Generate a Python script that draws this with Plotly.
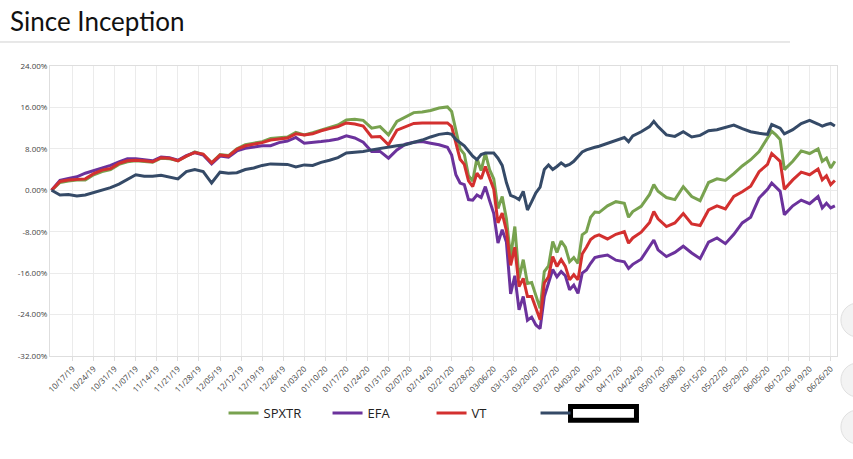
import plotly.graph_objects as go
import pandas as pd

# sampled trading days (denser through the Feb-Apr selloff)
dates = [
    "2019-10-10", "2019-10-14", "2019-10-16", "2019-10-18", "2019-10-22", "2019-10-24", "2019-10-28", "2019-10-30",
    "2019-11-01", "2019-11-05", "2019-11-07", "2019-11-11", "2019-11-13", "2019-11-15", "2019-11-19", "2019-11-21",
    "2019-11-25", "2019-11-27", "2019-11-29", "2019-12-03", "2019-12-05", "2019-12-09", "2019-12-11", "2019-12-13",
    "2019-12-17", "2019-12-19", "2019-12-23", "2019-12-25", "2019-12-27", "2019-12-31", "2020-01-03", "2020-01-07",
    "2020-01-09", "2020-01-13", "2020-01-15", "2020-01-17", "2020-01-21", "2020-01-23", "2020-01-27", "2020-01-29",
    "2020-01-31", "2020-02-04", "2020-02-06", "2020-02-10", "2020-02-12", "2020-02-14", "2020-02-18", "2020-02-20",
    "2020-02-21", "2020-02-24", "2020-02-25", "2020-02-26", "2020-02-27", "2020-02-28", "2020-03-02", "2020-03-03",
    "2020-03-04", "2020-03-05", "2020-03-06", "2020-03-09", "2020-03-10", "2020-03-11", "2020-03-12", "2020-03-13",
    "2020-03-16", "2020-03-17", "2020-03-18", "2020-03-19", "2020-03-20", "2020-03-23", "2020-03-24", "2020-03-25",
    "2020-03-26", "2020-03-27", "2020-03-30", "2020-03-31", "2020-04-01", "2020-04-02", "2020-04-03", "2020-04-06",
    "2020-04-07", "2020-04-08", "2020-04-09",
    "2020-04-10", "2020-04-14", "2020-04-16", "2020-04-20", "2020-04-21", "2020-04-22", "2020-04-24", "2020-04-28",
    "2020-04-29", "2020-04-30", "2020-05-04", "2020-05-06", "2020-05-08", "2020-05-12", "2020-05-14", "2020-05-18",
    "2020-05-20", "2020-05-22", "2020-05-26", "2020-05-28", "2020-06-01", "2020-06-03", "2020-06-05", "2020-06-08",
    "2020-06-09", "2020-06-10", "2020-06-11", "2020-06-15", "2020-06-17", "2020-06-19", "2020-06-23", "2020-06-24",
    "2020-06-25", "2020-06-26", "2020-06-29",
]

# cumulative return since inception, %
spxtr = [
    0, 1.5, 1.8, 2.0, 2.0, 3.0, 3.6, 4.0, 5.0, 5.5, 5.7, 5.6, 5.4, 6.2, 6.1, 5.7,
    6.6, 7.4, 6.9, 5.3, 6.9, 6.7, 8.0, 8.8, 9.1, 9.4, 10.0, 10.2, 10.3, 11.2, 10.7, 11.1,
    11.6, 12.0, 12.6, 13.6, 13.7, 13.5, 12.0, 12.3, 10.7, 13.3, 14.2, 15.0, 15.1, 15.4, 15.9, 16.1,
    15.2, 11.6, 8.0, 7.0, 2.8, 1.8, 6.2, 3.8, 7.2, 4.0, 2.2, -3.5, -1.2, -5.5, -13.0, -7.0,
    -17.0, -13.4, -18.0, -17.8, -20.5, -22.8, -15.7, -14.6, -9.9, -12.0, -9.8, -11.0, -13.8, -13.0, -14.1, -8.6,
    -8.0, -5.2, -4.2,
    -4.3, -3.0, -2.2, -2.5, -5.2, -4.1, -3.1, -0.8, 1.1, -0.2, -1.4, -1.8, 0.7, -1.2, -2.0, 1.5,
    2.2, 1.9, 3.2, 4.7, 5.9, 7.5, 10.2, 11.4, 10.7, 9.8, 4.0, 5.6, 7.6, 7.1, 8.0, 5.6,
    6.2, 4.3, 5.6,
]
efa = [
    0, 1.9, 2.3, 2.6, 3.3, 3.8, 4.2, 4.8, 5.5, 6.1, 6.1, 5.9, 5.7, 6.4, 6.3, 5.8,
    6.7, 7.3, 6.8, 5.1, 6.6, 6.4, 7.6, 8.1, 8.4, 8.6, 8.6, 9.2, 9.5, 10.2, 9.1, 9.2,
    9.4, 9.6, 9.9, 10.5, 10.1, 9.3, 7.5, 7.5, 6.2, 7.8, 8.9, 9.3, 9.4, 9.1, 8.8, 8.3,
    6.8, 3.0, 1.4, 1.1, -1.8, -1.9, -0.9, -1.4, 0.7, -2.0, -4.5, -10.2, -7.6, -10.0, -20.0, -16.5,
    -23.1, -20.5, -25.1, -24.5, -26.0, -26.7, -20.5, -17.9, -15.3, -16.7, -15.7, -16.5, -19.2, -18.3, -19.9, -16.0,
    -15.4, -14.1, -13.0,
    -12.8, -12.5, -13.5, -13.8, -15.1, -14.3, -13.3, -11.0, -9.6, -11.5, -12.8, -12.0, -10.8, -12.1, -13.2, -10.0,
    -9.2, -10.3, -8.5, -6.3, -5.2, -1.5, 0.2, 1.4, 0.5, -0.2, -4.7, -3.0, -1.9, -2.6, -1.2, -3.4,
    -2.5, -3.4, -3.0,
]
vt = [
    0, 1.7, 2.0, 2.1, 2.2, 3.2, 3.9, 4.2, 5.2, 5.7, 5.8, 5.7, 5.5, 6.3, 6.2, 5.7,
    6.6, 7.3, 7.0, 5.3, 6.8, 6.6, 7.9, 8.6, 8.9, 9.2, 9.7, 9.9, 10.1, 10.9, 10.7, 10.9,
    11.5, 11.9, 12.3, 13.0, 12.8, 12.4, 10.3, 10.4, 8.8, 11.6, 12.2, 12.9, 13.0, 13.0, 13.0, 13.0,
    12.3, 9.2, 6.0, 5.0, 1.8, 0.7, 3.3, 2.2, 4.6, 2.4, 0.2, -6.3, -4.4, -7.8, -14.5, -11.0,
    -18.6, -17.0, -20.5, -20.5, -22.8, -25.0, -17.9, -16.7, -12.8, -14.7, -13.4, -14.7, -17.3, -16.3, -17.3, -12.3,
    -11.0, -9.5, -8.9,
    -8.6, -9.4, -8.5, -8.0, -10.2, -9.2, -8.1, -6.2, -4.1, -5.5, -7.0, -6.3, -4.5, -6.5, -6.8, -3.8,
    -3.0, -3.6, -1.2, -0.3, 0.8, 3.6, 5.0, 7.1, 6.3, 5.6, 0.2, 2.0, 3.5, 3.0, 4.1, 2.0,
    2.8, 1.1, 1.9,
]
fund = [
    0, -0.9, -0.8, -1.1, -0.9, -0.4, 0.1, 0.5, 1.2, 2.1, 3.0, 2.7, 2.7, 2.9, 2.5, 2.2,
    3.6, 4.0, 3.6, 1.4, 3.5, 3.3, 3.4, 4.0, 4.3, 4.8, 5.1, 5.1, 5.0, 4.5, 4.9, 4.8,
    5.4, 5.8, 6.3, 7.2, 7.3, 7.5, 7.8, 8.1, 8.4, 8.6, 8.8, 9.2, 9.7, 10.3, 10.8, 11.0,
    10.8, 9.8, 9.2, 8.6, 7.6, 6.6, 5.9, 6.9, 7.2, 7.2, 7.2, 6.2, 4.8, 1.5, -1.0, -1.3,
    -1.8, -0.2, -3.8, -2.2, -0.5, 0.6, 4.0, 4.9, 4.0, 4.6, 5.3, 4.7, 5.0, 5.6, 6.6, 7.4,
    7.8, 8.1, 8.3,
    8.5, 9.1, 9.6, 10.2, 9.4, 10.5, 11.3, 12.3, 13.3, 12.3, 10.7, 10.4, 11.3, 10.3, 10.6, 11.5,
    11.7, 12.2, 12.6, 11.9, 11.3, 11.0, 10.8, 12.7, 12.4, 12.0, 10.9, 11.7, 12.9, 13.5, 12.8, 12.4,
    12.7, 12.9, 12.4,
]

tick_labels = [
    "10/17/19", "10/24/19", "10/31/19", "11/07/19", "11/14/19", "11/21/19", "11/28/19", "12/05/19",
    "12/12/19", "12/19/19", "12/26/19", "01/03/20", "01/10/20", "01/17/20", "01/24/20", "01/31/20",
    "02/07/20", "02/14/20", "02/21/20", "02/28/20", "03/06/20", "03/13/20", "03/20/20", "03/27/20",
    "04/03/20", "04/10/20", "04/17/20", "04/24/20", "05/01/20", "05/08/20", "05/15/20", "05/22/20",
    "05/29/20", "06/05/20", "06/12/20", "06/19/20", "06/26/20",
]
y_ticks = [-32, -24, -16, -8, 0, 8, 16, 24]

series = [
    ("SPXTR", spxtr, "#78a24f"),
    ("EFA", efa, "#6b329c"),
    ("VT", vt, "#d3302f"),
    ("", fund, "#354a67"),
]

fig = go.Figure()
for name, vals, col in series:
    fig.add_trace(go.Scatter(x=pd.to_datetime(dates), y=vals, name=name, mode="lines",
                             line=dict(color=col, width=3)))

tick_dates = pd.to_datetime(tick_labels, format="%m/%d/%y")

fig.update_xaxes(
    range=["2019-10-09 15:00", "2020-06-29 12:00"],
    rangebreaks=[dict(bounds=["sat", "mon"]), dict(values=["2020-01-01"])],
    tickvals=tick_dates, ticktext=tick_labels, tickangle=-45,
    tickfont=dict(family="Open Sans", size=8, color="#444"),
    showgrid=True, gridcolor="#ebebeb", gridwidth=1,
    showline=True, linecolor="#dedede", mirror=True,
    ticks="outside", ticklen=4, tickcolor="#dedede",
)
fig.update_yaxes(
    range=[-32, 24], tickvals=y_ticks, ticktext=[f"{v:.2f}%" for v in y_ticks],
    tickfont=dict(family="Open Sans", size=8, color="#444"),
    showgrid=True, gridcolor="#ebebeb", gridwidth=1, zeroline=False,
    showline=True, linecolor="#dedede", mirror=True,
)

fig.update_layout(
    width=853, height=459,
    margin=dict(l=50, r=16, t=66, b=103),
    paper_bgcolor="white", plot_bgcolor="white",
    title=dict(text="Since Inception", x=10 / 853, xanchor="left", xref="container",
               y=1 - 22 / 459, yanchor="middle", yref="container",
               font=dict(family="Lato", size=26, color="#111")),
    legend=dict(orientation="h", x=0.4848, xanchor="center", y=-0.197, yanchor="middle",
                font=dict(family="Open Sans", size=13, color="#222"),
                bgcolor="rgba(0,0,0,0)", entrywidth=59, itemwidth=30),
    shapes=[
        # rule under the title
        dict(type="line", xref="paper", yref="paper", x0=-0.0635, x1=0.9403, y0=1.0828, y1=1.0828,
             line=dict(color="#d0d0d0", width=1)),
        # redaction box over the fourth legend label
        dict(type="rect", xref="paper", yref="paper", x0=0.6614, x1=0.7452, y0=-0.2217, y1=-0.1741,
             line=dict(color="black", width=5), fillcolor="white"),
        # clipped round buttons at the right edge
        dict(type="circle", xref="paper", yref="paper", x0=1.005, x1=1.048, y0=0.0655, y1=0.1828,
             line=dict(color="#e0e0e0", width=1), fillcolor="#f3f3f3"),
        dict(type="circle", xref="paper", yref="paper", x0=1.005, x1=1.048, y0=-0.1414, y1=-0.0241,
             line=dict(color="#e0e0e0", width=1), fillcolor="#f3f3f3"),
        dict(type="circle", xref="paper", yref="paper", x0=1.005, x1=1.048, y0=-0.3034, y1=-0.1862,
             line=dict(color="#e0e0e0", width=1), fillcolor="#f3f3f3"),
    ],
)

# drop the browser's default 8px body margin so the figure fills the window
fig.write_html("out.html", config={"displayModeBar": False},
               post_script="document.body.style.margin = '0';")
